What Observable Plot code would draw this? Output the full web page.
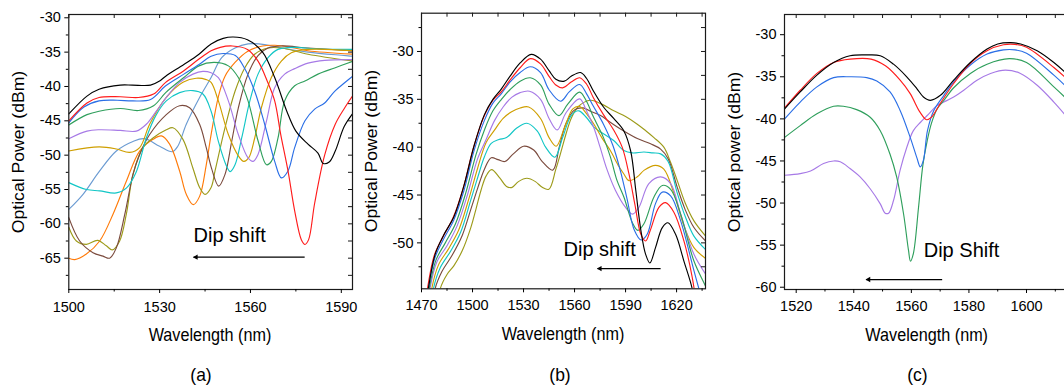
<!DOCTYPE html>
<html><head><meta charset="utf-8">
<script src="https://cdn.jsdelivr.net/npm/d3@7"></script>
<script src="https://cdn.jsdelivr.net/npm/@observablehq/plot@0.6"></script>
<style>
html,body{margin:0;padding:0;background:#fff;overflow:hidden;width:1064px;height:387px}
#wrap{position:relative;width:1064px;height:387px;font-family:"Liberation Sans",Arial,sans-serif;color:#000;overflow:hidden}
.panel{position:absolute;top:0}
.t{position:absolute;white-space:nowrap;line-height:1}
</style></head>
<body><div id="wrap"></div>
<script>
// ---------- Panel (a) data: [wavelength nm, power dBm] ----------
const A_black = [[1500,-44.0],[1506,-41.4],[1510,-40.4],[1517,-39.8],[1521,-39.8],[1527,-39.8],[1530,-39.2],[1532,-38.5],[1538,-36.8],[1543,-35.3],[1547,-33.8],[1551,-33.0],[1554.3,-32.8],[1559,-33.2],[1564,-35.0],[1568,-38.7],[1572,-43.6],[1575,-46.5],[1579,-48.4],[1582.3,-49.7],[1584,-51.2],[1586,-51.0],[1588,-49.4],[1591,-45.8],[1594,-43.8]];
const A_red = [[1500,-45.0],[1506,-42.4],[1510,-41.6],[1517,-41.5],[1523,-41.6],[1528,-41.1],[1532,-39.4],[1538,-37.7],[1543,-36.0],[1547,-34.8],[1550,-34.3],[1554,-34.1],[1559,-34.6],[1562.5,-36.3],[1565.8,-39.5],[1568,-42.1],[1570,-47.0],[1572.4,-52.3],[1574.6,-58.1],[1576.8,-62.3],[1578,-63.0],[1579.2,-62.3],[1581.2,-57.0],[1584.5,-50.0],[1588,-45.5],[1591,-43.2],[1594,-41.2]];
const A_blue = [[1500,-45.3],[1505,-43.0],[1510,-42.1],[1516,-42.0],[1521,-42.1],[1527,-41.9],[1532,-39.9],[1538,-38.2],[1543,-36.8],[1547,-35.6],[1551,-35.2],[1555,-35.5],[1558,-37.3],[1561.4,-40.7],[1564.7,-45.5],[1568,-50.9],[1570.2,-53.3],[1572.4,-52.3],[1574.6,-48.9],[1578,-45.0],[1581.2,-43.3],[1584.5,-42.4],[1587.8,-40.7],[1591,-39.5],[1594,-38.4]];
const A_green = [[1500,-45.6],[1506,-44.1],[1510,-43.6],[1517,-43.2],[1523,-43.5],[1528,-42.8],[1532,-40.9],[1538,-38.7],[1543,-37.0],[1548,-36.5],[1552.7,-37.0],[1556,-38.7],[1559.2,-42.1],[1562.5,-47.9],[1565.3,-51.4],[1566.9,-50.9],[1569.1,-47.5],[1571.3,-42.1],[1574.6,-39.9],[1578,-39.2],[1582.3,-38.2],[1587.8,-37.3],[1594,-36.3]];
const A_purple = [[1500,-47.6],[1506,-46.5],[1510,-46.3],[1517,-46.4],[1522.3,-46.5],[1525.6,-45.5],[1528.9,-43.6],[1532.2,-41.6],[1536.6,-39.4],[1541,-38.2],[1544.3,-37.8],[1547,-38.0],[1549.4,-38.7],[1552.7,-42.1],[1556,-47.0],[1559.2,-50.4],[1560.9,-50.9],[1562.5,-49.9],[1565.3,-45.0],[1568,-40.2],[1571.3,-38.2],[1574.6,-37.4],[1579,-36.6],[1584.5,-36.2],[1594,-36.1]];
const A_gold = [[1500,-49.4],[1510,-48.8],[1515.7,-49.1],[1520.1,-49.6],[1523.4,-48.9],[1526.7,-45.5],[1532.2,-41.6],[1537.7,-39.4],[1542.1,-38.8],[1545.4,-39.0],[1547,-39.4],[1549.4,-42.1],[1552.7,-47.0],[1556,-50.1],[1557.8,-50.9],[1559.4,-50.4],[1561.4,-47.5],[1563.6,-43.1],[1566.9,-38.7],[1570.2,-36.3],[1573.5,-35.1],[1579,-34.6],[1594,-34.8]];
const A_cyan = [[1500,-54.0],[1505.8,-55.0],[1510.2,-55.2],[1515.7,-55.5],[1519,-54.8],[1522.3,-52.4],[1525.6,-47.5],[1528.9,-44.1],[1532.2,-42.1],[1536.6,-40.9],[1541,-40.6],[1544.3,-41.1],[1547,-43.6],[1549.4,-48.0],[1552.1,-51.6],[1553.3,-52.4],[1554.9,-51.4],[1557.1,-47.5],[1559.8,-42.1],[1562.5,-38.2],[1565.8,-35.8],[1569.1,-34.6],[1574.6,-34.3],[1581.2,-34.5],[1594,-34.6]];
const A_brown = [[1500,-59.1],[1503.6,-62.5],[1508,-64.2],[1511.3,-64.7],[1513.5,-65.0],[1515.7,-63.5],[1518.5,-58.6],[1521.2,-52.8],[1523.4,-49.9],[1526.7,-47.0],[1532.2,-44.1],[1536.6,-42.8],[1539.9,-43.1],[1543.2,-45.5],[1545.4,-48.9],[1547.2,-52.0],[1549.5,-54.5],[1551.6,-52.8],[1553.8,-48.0],[1556,-43.1],[1559.2,-38.2],[1562.5,-35.5],[1565.8,-34.4],[1570.2,-34.1],[1579,-34.4],[1594,-34.8]];
const A_olive = [[1500,-60.5],[1502.5,-62.5],[1505.8,-63.0],[1509.5,-62.4],[1512.4,-63.2],[1514.4,-63.8],[1516.8,-62.5],[1519,-58.6],[1521.2,-52.8],[1524.5,-48.9],[1527.8,-47.5],[1532.2,-46.3],[1534.4,-46.0],[1537.7,-47.7],[1541,-51.9],[1543.2,-54.7],[1545,-55.7],[1547,-54.7],[1548.3,-52.3],[1551.6,-46.0],[1554.9,-40.7],[1558.1,-37.3],[1561.4,-35.3],[1565.8,-34.4],[1570.2,-34.4],[1579,-35.3],[1594,-36.3]];
const A_orange = [[1500,-65.0],[1502,-65.2],[1505.8,-64.4],[1510.2,-62.5],[1514.6,-58.6],[1519,-53.8],[1523.4,-49.4],[1527.8,-47.7],[1530.6,-47.2],[1533.3,-48.4],[1536.6,-52.3],[1538.8,-55.7],[1541.1,-57.2],[1543.2,-56.0],[1545.4,-51.4],[1547,-47.0],[1549.4,-41.5],[1551.6,-38.5],[1554.9,-36.5],[1559,-34.9],[1564,-34.1],[1568,-34.0],[1573.5,-34.3],[1579,-34.8],[1594,-35.3]];
const A_lightblue = [[1500,-57.9],[1504.7,-55.7],[1510.2,-52.3],[1515.7,-49.4],[1521.2,-48.0],[1525,-47.6],[1530,-48.7],[1534.2,-49.5],[1536,-48.7],[1538.8,-45.5],[1543.2,-41.6],[1547,-38.7],[1550.5,-35.8],[1554.9,-34.4],[1559.2,-33.8],[1564.7,-33.9],[1570.2,-34.4],[1579,-35.0],[1594,-35.6]];

// ---------- Panel (b) data ----------
const B_black = [[1472.5,-57],[1474,-54.8],[1478,-51.2],[1483,-49.2],[1489,-47.3],[1495,-44.0],[1501,-39.8],[1507,-36.6],[1512,-35.0],[1517,-33.9],[1522,-32.6],[1528,-31.2],[1534.5,-30.3],[1540,-30.8],[1545,-32.0],[1549,-32.9],[1554,-33.1],[1558,-32.6],[1563.5,-32.2],[1567,-32.8],[1571,-34.1],[1577,-35.8],[1583,-37.0],[1589,-38.3],[1593,-40.4],[1596,-44.5],[1599,-48.7],[1601.8,-51.2],[1604.3,-52.1],[1607.6,-50.5],[1611.6,-48.4],[1614.9,-47.9],[1619.4,-49.1],[1624.3,-51.9],[1629.2,-54.8],[1631,-57]];
const B_red = [[1472,-57],[1473.5,-54.8],[1477.5,-51.3],[1482.5,-49.4],[1488.5,-47.4],[1494.5,-44.3],[1500.5,-40.1],[1506.5,-36.9],[1512,-35.1],[1517,-34.2],[1522,-33.0],[1528,-31.7],[1534,-30.75],[1540,-31.3],[1545,-32.6],[1549,-33.5],[1553,-33.8],[1558,-33.2],[1563,-32.75],[1567,-33.4],[1571,-34.8],[1577,-36.6],[1583,-38.2],[1588,-40.0],[1592,-42.8],[1595.5,-46.0],[1599,-49.1],[1601.8,-49.8],[1604.5,-48.7],[1609.6,-46.3],[1613.5,-45.8],[1618.4,-46.8],[1624.3,-49.8],[1629.2,-53.6],[1632,-57]];
const B_blue = [[1472.5,-57],[1474,-54.8],[1478,-51.5],[1483,-49.6],[1489,-47.6],[1495,-44.5],[1501,-40.3],[1507,-37.2],[1512,-35.4],[1517,-34.4],[1522,-33.2],[1528,-32.2],[1534,-31.6],[1540,-32.2],[1545,-34.0],[1551.8,-35.2],[1557,-34.2],[1563,-33.45],[1567,-34.4],[1571,-35.7],[1577,-37.6],[1582.5,-39.8],[1587,-42.5],[1591,-45.5],[1595,-48.6],[1599.2,-49.7],[1602.7,-49.1],[1607.6,-45.9],[1611.6,-44.7],[1616.5,-45.1],[1622.4,-47.7],[1630.2,-52.9],[1635,-56]];
const B_green = [[1473,-57],[1474.5,-54.8],[1478.5,-51.8],[1484,-50.0],[1490,-48.0],[1496,-44.8],[1502,-40.8],[1507,-38.2],[1512,-36.2],[1517,-35.0],[1522,-34.0],[1528,-33.1],[1534,-32.75],[1540,-33.5],[1545,-35.5],[1550.8,-36.7],[1556,-35.5],[1563,-34.25],[1567,-35.2],[1571,-36.8],[1577,-39.0],[1581.2,-41.1],[1585,-43.5],[1589,-45.2],[1594,-47.9],[1597.2,-48.7],[1600.8,-48.0],[1606.7,-45.2],[1611.6,-44.0],[1616.5,-44.4],[1622.4,-47.0],[1630.2,-51.9],[1637.6,-54.7]];
const B_purple = [[1473.5,-57],[1475,-54.8],[1479,-52.0],[1485,-50.3],[1491,-48.2],[1497,-45.0],[1503,-41.2],[1508,-39.2],[1513,-37.2],[1518,-35.8],[1523,-34.8],[1528,-34.3],[1533.5,-34.15],[1540,-35.0],[1545,-37.0],[1549.8,-38.2],[1555,-36.4],[1563,-34.95],[1567,-36.2],[1571.4,-38.0],[1575,-40.0],[1579,-42.3],[1584,-44.5],[1590,-46.3],[1594,-47.0],[1597.8,-46.3],[1603.7,-43.8],[1610.6,-43.1],[1616.5,-43.8],[1622.4,-47.0],[1630.2,-51.2],[1637.6,-53.4]];
const B_gold = [[1474.5,-57],[1476,-54.8],[1480,-52.3],[1486,-50.6],[1492,-48.6],[1498,-45.3],[1503,-42.2],[1508,-39.5],[1513,-38.2],[1518,-37.0],[1523,-36.3],[1528,-35.9],[1533,-35.8],[1540,-37.0],[1545,-39.0],[1549.2,-39.9],[1554,-38.0],[1559,-36.0],[1563,-35.75],[1567,-36.5],[1571.4,-37.6],[1576,-39.0],[1581.2,-40.4],[1586,-42.0],[1589,-42.8],[1592,-43.5],[1596.9,-43.1],[1601,-42.4],[1607.6,-41.9],[1612.5,-42.3],[1618.4,-44.8],[1624.3,-48.2],[1630.2,-50.5],[1637.6,-51.7]];
const B_cyan = [[1475.5,-57],[1477,-54.8],[1481,-52.6],[1487,-50.9],[1493,-48.9],[1499,-45.5],[1503,-43.2],[1507,-41.0],[1511,-39.6],[1515.5,-39.2],[1520,-39.0],[1526,-38.0],[1532,-37.5],[1538,-38.3],[1543,-40.0],[1548.4,-41.05],[1553,-39.0],[1558,-36.7],[1562.4,-36.2],[1567,-36.9],[1571.4,-37.9],[1577,-38.6],[1583,-39.3],[1589,-40.35],[1594,-40.6],[1600.8,-40.5],[1606,-40.6],[1610.6,-40.7],[1615,-41.5],[1620.4,-44.8],[1625,-47.2],[1630.2,-49.3],[1637.6,-50.8]];
const B_brown = [[1476.5,-57],[1478,-54.8],[1482,-53.0],[1488,-51.3],[1494,-49.2],[1499,-46.5],[1503,-44.3],[1507,-42.3],[1511,-41.1],[1515,-41.3],[1519,-41.5],[1524,-40.7],[1530,-39.9],[1536,-40.3],[1541,-41.5],[1547.2,-42.4],[1551,-40.0],[1555,-37.5],[1560,-36.1],[1565,-35.9],[1570,-36.3],[1575.3,-36.7],[1581,-37.4],[1587,-38.1],[1596.9,-39.1],[1604.7,-39.65],[1610.6,-40.2],[1615,-41.2],[1620.4,-44.2],[1625,-46.5],[1630.2,-48.4],[1637.6,-49.9]];
const B_olive = [[1479.5,-57],[1481,-54.8],[1485,-53.3],[1489,-52.4],[1494,-50.8],[1499,-48.4],[1502,-46.5],[1505,-44.5],[1508,-43.0],[1511.2,-42.35],[1516,-43.2],[1520,-44.1],[1523.3,-44.2],[1527,-43.6],[1532,-43.25],[1537,-43.6],[1541,-44.2],[1544.9,-44.4],[1549,-42.3],[1552,-40.5],[1555,-38.6],[1558,-37.0],[1562,-35.8],[1569.4,-35.1],[1576,-35.5],[1583.1,-36.2],[1590,-36.8],[1596.9,-37.6],[1602,-38.3],[1606.7,-39.0],[1612.5,-40.0],[1616.5,-41.6],[1620.4,-43.5],[1625,-45.8],[1630.2,-47.7],[1637.6,-49.4]];

// ---------- Panel (c) data ----------
const C_black = [[1516,-38.8],[1521.4,-36.8],[1527.2,-34.8],[1533,-33.3],[1538.7,-32.5],[1544.5,-32.4],[1549.2,-32.5],[1553.8,-33.5],[1558.4,-35.0],[1561.9,-36.4],[1564.2,-37.4],[1566.6,-37.8],[1570.1,-37.2],[1574.7,-35.4],[1580.5,-33.3],[1586.3,-31.7],[1590,-31.1],[1594.5,-30.95],[1598,-31.1],[1603.7,-31.9],[1609.5,-33.3],[1615.1,-35.0]];
const C_red = [[1516,-38.7],[1521.4,-36.6],[1527.2,-34.6],[1533,-33.3],[1538.7,-32.9],[1546,-32.9],[1551,-33.7],[1556.1,-35.4],[1559.6,-37.0],[1563,-39.2],[1565.3,-40.1],[1567,-39.8],[1570,-38.2],[1574.7,-35.8],[1580.5,-33.4],[1586.3,-31.9],[1592,-31.2],[1596,-31.15],[1600,-31.5],[1609.5,-33.9],[1615.1,-35.6]];
const C_blue = [[1516,-40.0],[1521.4,-38.0],[1527.2,-36.2],[1533,-35.1],[1538.7,-35.0],[1544.5,-35.1],[1548,-35.5],[1552.6,-36.8],[1556.1,-39.0],[1559.6,-42.2],[1561.9,-44.6],[1563.1,-45.7],[1564.2,-44.9],[1565.6,-41.4],[1567.8,-39.0],[1571.3,-37.2],[1574.7,-35.6],[1580.5,-33.6],[1586.3,-32.3],[1592,-31.8],[1596,-31.8],[1600,-32.2],[1609.5,-34.8],[1615.1,-36.6]];
const C_green = [[1516,-42.2],[1521.4,-40.8],[1527.2,-39.4],[1533,-38.5],[1536.4,-38.5],[1541,-38.9],[1545.7,-39.8],[1549.2,-41.4],[1552.6,-44.2],[1554.9,-46.9],[1557.3,-51.3],[1559,-55.6],[1559.7,-56.9],[1560.7,-56.0],[1562.5,-50.5],[1564,-45.5],[1565.5,-42.6],[1567,-40.5],[1569,-38.8],[1571.3,-37.8],[1574.7,-36.3],[1580.5,-34.6],[1586.3,-33.5],[1594,-32.85],[1600,-33.3],[1609.5,-36.2],[1615.1,-38.0]];
const C_purple = [[1516,-46.7],[1521.4,-46.5],[1525,-46.2],[1529.5,-45.3],[1533,-45.0],[1535.3,-45.1],[1538.7,-45.9],[1542.2,-46.9],[1545.7,-48.3],[1549.2,-50.1],[1550.9,-51.2],[1552.1,-51.2],[1553.8,-49.7],[1556.1,-46.1],[1558.4,-43.4],[1560.7,-41.4],[1563.2,-40.4],[1565.5,-39.6],[1569,-38.4],[1571.3,-38.0],[1574.7,-37.4],[1578.2,-36.6],[1582.8,-35.4],[1587.5,-34.6],[1592.7,-34.2],[1597.9,-34.6],[1603.7,-36.0],[1609.5,-38.0],[1615.1,-40.2]];

// ---------- Ticks and annotations ----------
const A_xMajor = [1500,1530,1560,1590], A_xMinor = [1515,1545,1575], A_xTop = d3.range(1500,1594,15);
const A_yMajor = [-65,-60,-55,-50,-45,-40,-35,-30], A_yMinor = [-67.5,-62.5,-57.5,-52.5,-47.5,-42.5,-37.5,-32.5];
const B_xMajor = [1470,1500,1530,1560,1590,1620], B_xMinor = [1485,1515,1545,1575,1605,1635], B_xTop = d3.range(1470,1638,15);
const B_yMajor = [-50,-45,-40,-35,-30], B_yMinor = [-52.5,-47.5,-42.5,-37.5,-32.5,-27.5];
const C_xMajor = [1520,1540,1560,1580,1600], C_xMinor = [1530,1550,1570,1590,1610], C_xTop = d3.range(1520,1615,10);
const C_yMajor = [-60,-55,-50,-45,-40,-35,-30], C_yMinor = [-57.5,-52.5,-47.5,-42.5,-37.5,-32.5];

const A_note = [{text:"Dip shift", x:1541.2, y:-61.7}], A_arrow = [{x1:1577.9, x2:1541.2, y:-64.85}];
const B_note = [{text:"Dip shift", x:1553.5, y:-50.75}], B_arrow = [{x1:1610.6, x2:1573.5, y:-52.69}];
const C_note = [{text:"Dip Shift", x:1564.3, y:-55.7}], C_arrow = [{x1:1570.7, x2:1544.3, y:-59.09}];

const COL = {black:"#000000", red:"#ff1c1c", blue:"#2b6fe6", green:"#2f9f5c", purple:"#a77ae6",
  gold:"#cf9f00", cyan:"#12c6c6", brown:"#7b4b3e", olive:"#9d9b1a", orange:"#ff7b0a", lightblue:"#6b9bd2"};

const seriesA = [["lightblue",A_lightblue],["orange",A_orange],["olive",A_olive],["brown",A_brown],["cyan",A_cyan],["gold",A_gold],["purple",A_purple],["green",A_green],["blue",A_blue],["red",A_red],["black",A_black]];
const seriesB = [["olive",B_olive],["brown",B_brown],["cyan",B_cyan],["gold",B_gold],["purple",B_purple],["green",B_green],["blue",B_blue],["red",B_red],["black",B_black]];
const seriesC = [["purple",C_purple],["green",C_green],["blue",C_blue],["red",C_red],["black",C_black]];

function panel(o) {
  const iw = o.width - o.ml - o.mr, ih = o.height - o.mt - o.mb;
  const fmt = d => String(d);
  const marks = [];
  for (const [name, data] of o.series) {
    marks.push(Plot.line(data, {x: d => d[0], y: d => d[1], stroke: COL[name], strokeWidth: 1.15, curve: "catmull-rom", clip: true}));
  }
  marks.push(
    Plot.frame({stroke: "#1a1a1a", strokeWidth: 1.2}),
    Plot.axisX({ticks: o.xMajor, tickSize: 4, tickPadding: o.xPad, tickFormat: fmt, label: null, fontSize: 14.5}),
    Plot.axisX({ticks: o.xMinor, tickSize: 2.5, tickFormat: () => "", label: null}),
    Plot.axisY({ticks: o.yMajor, tickSize: 4, tickPadding: 4, tickFormat: fmt, label: null, fontSize: 14.5}),
    Plot.axisY({ticks: o.yMinor, tickSize: 2.5, tickFormat: () => "", label: null}),
    Plot.ruleX(o.xTop, {x: d => d, insetBottom: ih - 4, stroke: "#1a1a1a", strokeWidth: 1}),
    Plot.ruleY(o.yMajor.concat(o.yMinor), {y: d => d, insetLeft: iw - 4, stroke: "#1a1a1a", strokeWidth: 1}),
    Plot.link(o.arrow, {x1: "x1", x2: "x2", y1: "y", y2: "y", stroke: "#000", strokeWidth: 1.3}),
    Plot.dot(o.arrow, {x: "x2", y: "y", symbol: "triangle2", r: 2.6, fill: "#000", rotate: -90, dx: 2.5}),
    Plot.text(o.note, {x: "x", y: "y", text: "text", textAnchor: "start", lineAnchor: "middle", fontSize: 20, fill: "#000"})
  );
  const svg = Plot.plot({
    width: o.width, height: o.height,
    marginLeft: o.ml, marginRight: o.mr, marginTop: o.mt, marginBottom: o.mb,
    x: {domain: o.xDomain}, y: {domain: o.yDomain},
    style: {fontFamily: "'Liberation Sans', Arial, sans-serif", fontSize: "14.5px", color: "#000", background: "none", overflow: "visible"},
    marks
  });
  svg.classList.add("panel");
  svg.style.left = o.left + "px";
  return svg;
}

const wrap = document.getElementById("wrap");
wrap.appendChild(panel({left: 0, width: 360, height: 330, ml: 68.3, mr: 8, mt: 14, mb: 41, xPad: 8.5,
  xDomain: [1500, 1593.7], yDomain: [-69.56, -29.52], series: seriesA,
  xMajor: A_xMajor, xMinor: A_xMinor, xTop: A_xTop, yMajor: A_yMajor, yMinor: A_yMinor, note: A_note, arrow: A_arrow}));
wrap.appendChild(panel({left: 360, width: 350, height: 330, ml: 61, mr: 5, mt: 12.7, mb: 41.7, xPad: 7,
  xDomain: [1470, 1637], yDomain: [-54.8, -26], series: seriesB,
  xMajor: B_xMajor, xMinor: B_xMinor, xTop: B_xTop, yMajor: B_yMajor, yMinor: B_yMinor, note: B_note, arrow: B_arrow}));
wrap.appendChild(panel({left: 710, width: 360, height: 330, ml: 74, mr: 0.6, mt: 14, mb: 41, xPad: 7.3,
  xDomain: [1515.94, 1615.07], yDomain: [-60.27, -27.6], series: seriesC,
  xMajor: C_xMajor, xMinor: C_xMinor, xTop: C_xTop, yMajor: C_yMajor, yMinor: C_yMinor, note: C_note, arrow: C_arrow}));

const labels = [
  {t: "Optical Power (dBm)", x: 19, y: 151.5, rot: true, fs: 16},
  {t: "Optical Power (dBm)", x: 371.5, y: 150.5, rot: true, fs: 16},
  {t: "Optical power (dBm)", x: 735, y: 151.5, rot: true, fs: 16},
  {t: "Wavelength (nm)", x: 210, y: 335, fs: 16.2},
  {t: "Wavelength (nm)", x: 563, y: 333.7, fs: 16.2},
  {t: "Wavelength (nm)", x: 926.7, y: 335.3, fs: 16.2},
  {t: "(a)", x: 201, y: 374.5, fs: 17.5},
  {t: "(b)", x: 560, y: 374.5, fs: 17.5},
  {t: "(c)", x: 917.5, y: 374.5, fs: 17.5}
];
for (const l of labels) {
  const d = document.createElement("div");
  d.className = "t";
  d.textContent = l.t;
  d.style.left = l.x + "px";
  d.style.top = l.y + "px";
  d.style.fontSize = l.fs + "px";
  d.style.transform = l.rot ? "translate(-50%,-50%) rotate(-90deg) scale(1.1,1)" : "translate(-50%,-50%) scale(1,1.1)";
  wrap.appendChild(d);
}
</script>
</body></html>
